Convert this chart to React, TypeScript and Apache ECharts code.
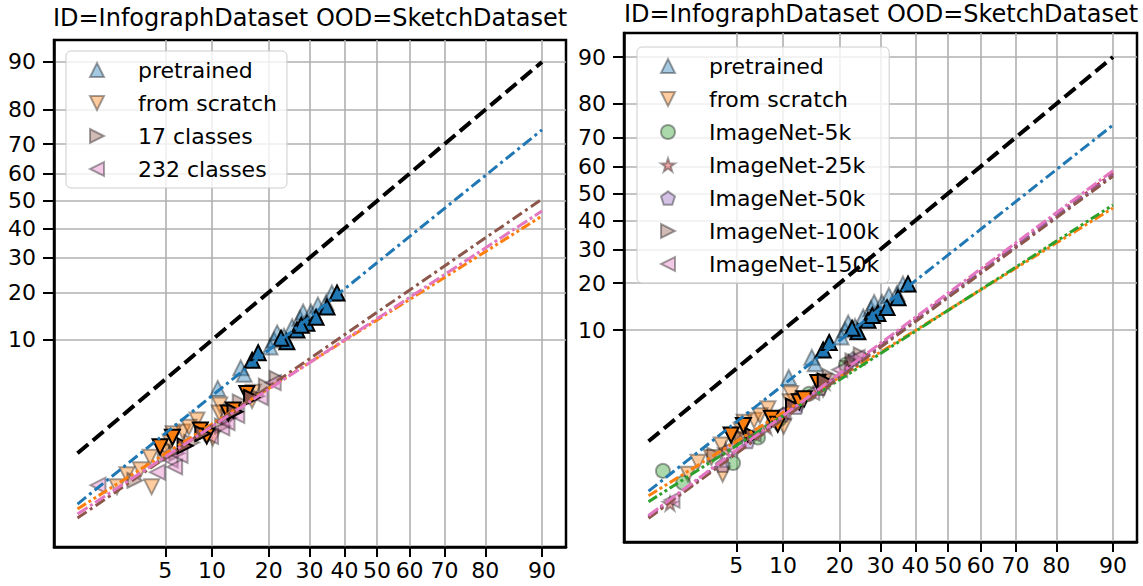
import React, { useEffect, useRef } from 'react';
import * as echarts from 'echarts';

// Inverse of the standard normal CDF (Acklam's rational approximation).
function probit(p: number): number {
  const a = [-3.969683028665376e1, 2.209460984245205e2, -2.759285104469687e2, 1.38357751867269e2, -3.066479806614716e1, 2.506628277459239];
  const b = [-5.447609879822406e1, 1.615858368580409e2, -1.556989798598866e2, 6.680131188771972e1, -1.328068155288572e1];
  const c = [-7.784894002430293e-3, -3.223964580411365e-1, -2.400758277161838, -2.549732539343734, 4.374664141464968, 2.938163982698783];
  const d = [7.784695709041462e-3, 3.224671290700398e-1, 2.445134137142996, 3.754408661907416];
  const pl = 0.02425;
  if (p < pl) {
    const q = Math.sqrt(-2 * Math.log(p));
    return (((((c[0] * q + c[1]) * q + c[2]) * q + c[3]) * q + c[4]) * q + c[5]) / ((((d[0] * q + d[1]) * q + d[2]) * q + d[3]) * q + 1);
  }
  if (p > 1 - pl) {
    const q = Math.sqrt(-2 * Math.log(1 - p));
    return -(((((c[0] * q + c[1]) * q + c[2]) * q + c[3]) * q + c[4]) * q + c[5]) / ((((d[0] * q + d[1]) * q + d[2]) * q + d[3]) * q + 1);
  }
  const q = p - 0.5;
  const r = q * q;
  return ((((((a[0] * r + a[1]) * r + a[2]) * r + a[3]) * r + a[4]) * r + a[5]) * q) / (((((b[0] * r + b[1]) * r + b[2]) * r + b[3]) * r + b[4]) * r + 1);
}

// percent -> probit-scaled coordinate
const pz = (pct: number) => probit(pct / 100);

const TITLE = 'ID=InfographDataset OOD=SketchDataset';
const xTicks = [5, 10, 20, 30, 40, 50, 60, 70, 80, 90];
const yTicks = [10, 20, 30, 40, 50, 60, 70, 80, 90];

// [ID accuracy %, OOD accuracy %]
const pretrainedLight = [
  [10.8, 4.2], [14.5, 6.2], [15.1, 5.5], [20.3, 8.9], [21.2, 10.0], [21.9, 11.2], [25.5, 12.3],
  [27.5, 14.0], [28.3, 15.3], [30.4, 15.3], [32.3, 16.9], [34.6, 17.4], [36.3, 19.8], [23.5, 10.6],
];
const pretrainedDark = [
  [16.6, 7.1], [17.8, 8.1], [24.2, 9.7], [26.7, 11.7], [29.3, 13.0], [31.8, 14.2], [34.9, 16.4],
  [37.8, 19.8], [22.8, 10.3], [27.8, 12.6],
];
const scratchLight = [
  [11.1, 3.0], [11.0, 2.53], [8.1, 2.17], [6.6, 1.66], [5.66, 1.59], [5.4, 1.31], [4.8, 1.03],
  [3.9, 0.91], [3.3, 0.66], [2.6, 0.58], [2.17, 0.42], [4.0, 0.42], [16.8, 3.9], [16.6, 3.3],
  [10.1, 1.44], [12.8, 2.53], [9.0, 1.62], [7.2, 1.85],
];
const scratchDark = [
  [12.4, 2.53], [8.5, 1.74], [4.6, 1.17], [15.6, 3.8], [9.3, 1.51], [5.6, 1.47], [13.2, 2.7],
];
const classes17 = [
  [5.0, 0.94], [6.0, 1.0], [9.1, 1.74], [11.5, 1.9], [14.4, 3.2], [17.5, 3.6], [21.9, 5.1],
  [19.5, 4.4], [7.5, 1.3], [12.5, 2.3], [3.0, 0.5],
];
const classes17Dark = [[8.8, 1.6], [13.5, 2.6], [16.5, 3.5], [6.8, 1.2]];
const classes232 = [
  [1.51, 0.44], [5.4, 0.85], [5.8, 0.71], [6.3, 0.95], [11.4, 1.82], [18.2, 3.5], [21.0, 4.7],
  [9.8, 1.5], [13.8, 2.4], [4.4, 0.62], [12.2, 2.05],
];
const inet5k = [[1.34, 0.46], [1.98, 0.33], [4.75, 0.57], [9.5, 1.7], [14.0, 3.0], [21.4, 5.4], [7.0, 1.1]];
const inet25k = [[1.54, 0.18], [4.2, 0.8], [8.0, 1.4], [12.0, 2.4], [17.0, 3.8], [22.0, 5.6]];
const inet50k = [[4.0, 0.54], [6.0, 1.0], [12.0, 2.25], [16.0, 3.4], [23.0, 6.0], [10.0, 1.9]];
const inet100k = [[3.5, 0.7], [5.5, 1.1], [9.0, 1.75], [13.0, 2.7], [18.0, 4.3], [23.0, 5.8], [25.0, 6.5]];
const inet100kDark = [[11.5, 2.3], [17.0, 3.9], [6.5, 1.15]];
const inet150k = [[1.6, 0.2], [4.5, 0.85], [6.5, 1.2], [10.0, 2.0], [14.5, 3.1], [20.0, 4.9], [24.0, 6.2]];

// Linear fits in probit space, evaluated at ID accuracy 1% and 90%
const fitX = [1, 90];
const diagY = [1, 90];
const fitPretrainedL = [0.26, 74.4];
const fitScratchL = [0.226, 44.5];
const fit232L = [0.195, 46.3];
const fit17L = [0.173, 50.7];
const fitPretrainedR = [0.26, 74.0];
const fitScratchR = [0.227, 44.6];
const fit5kR = [0.19, 45.7];
const fit25kR = [0.12, 57.5];
const fit50kR = [0.12, 57.0];
const fit100kR = [0.115, 56.5];
const fit150kR = [0.125, 58.5];

const C = {
  blue: '#1f77b4', orange: '#ff7f0e', green: '#2ca02c', red: '#d62728',
  purple: '#9467bd', brown: '#8c564b', pink: '#e377c2',
};
const FONT = 'DejaVu Sans';

const SYM = {
  up: 'path://M5,0 L10,10 L0,10 Z',
  down: 'path://M0,0 L10,0 L5,10 Z',
  right: 'path://M0,0 L10,5 L0,10 Z',
  left: 'path://M10,0 L10,10 L0,5 Z',
  star: 'path://M50,0 L61.8,36.2 L100,36.2 L69.1,58.6 L80.9,95.1 L50,72.7 L19.1,95.1 L30.9,58.6 L0,36.2 L38.2,36.2 Z',
  pentagon: 'path://M50,0 L100,36.3 L80.9,95.1 L19.1,95.1 L0,36.3 Z',
  circle: 'circle',
};

function hexA(hex: string, a: number) {
  const n = parseInt(hex.slice(1), 16);
  return `rgba(${(n >> 16) & 255},${(n >> 8) & 255},${n & 255},${a})`;
}

const toPts = (arr: number[][]) => arr.map(([x, y]) => [pz(x), pz(y)]);

function scatter(name: string, data: number[][], color: string, symbol: string, grid: number, dark = false, size = 15) {
  return {
    type: 'scatter', name, xAxisIndex: grid, yAxisIndex: grid, symbol, symbolSize: size,
    data: toPts(data), z: dark ? 3 : 2,
    itemStyle: dark
      ? { color, borderColor: '#000', borderWidth: 2, opacity: 1 }
      : { color: hexA(color, 0.5), borderColor: 'rgba(0,0,0,0.45)', borderWidth: 2 },
  };
}

function fitLine(id: string, ys: number[], color: string, grid: number, dash: number[], width = 3) {
  return {
    type: 'line', id, xAxisIndex: grid, yAxisIndex: grid, symbol: 'none', silent: true, z: 5,
    data: fitX.map((x, i) => [pz(x), pz(ys[i])]),
    lineStyle: { color, width, type: dash },
  };
}

function tickFmt(ticks: number[]) {
  return (v: number) => {
    const t = ticks.find((k) => Math.abs(pz(k) - v) < 1e-6);
    return t === undefined ? '' : String(t);
  };
}

function xAxis(grid: number, min: number, max: number) {
  const vals = xTicks.map(pz);
  return {
    type: 'value', gridIndex: grid, min, max,
    axisLine: { show: true, onZero: false, lineStyle: { color: '#000', width: 2.5 } },
    axisTick: { show: true, customValues: vals, length: 10, lineStyle: { color: '#000', width: 2 } },
    axisLabel: { customValues: vals, formatter: tickFmt(xTicks), fontSize: 22, color: '#000', fontFamily: FONT, margin: 12 },
    splitLine: { show: true, lineStyle: { color: '#b0b0b0', width: 1.6 } },
  };
}
function yAxis(grid: number, min: number, max: number) {
  const vals = yTicks.map(pz);
  return {
    type: 'value', gridIndex: grid, min, max,
    axisLine: { show: true, onZero: false, lineStyle: { color: '#000', width: 2.5 } },
    axisTick: { show: true, customValues: vals, length: 11, lineStyle: { color: '#000', width: 2 } },
    axisLabel: { customValues: vals, formatter: tickFmt(yTicks), fontSize: 22, color: '#000', fontFamily: FONT, margin: 18 },
    splitLine: { show: true, lineStyle: { color: '#b0b0b0', width: 1.6 } },
  };
}

function legend(left: number, top: number, names: string[]) {
  return {
    orient: 'vertical', left, top, data: names,
    backgroundColor: 'rgba(255,255,255,0.8)', borderColor: '#cccccc', borderWidth: 1, borderRadius: 5,
    padding: [8, 10, 8, 23], itemWidth: 14, itemHeight: 14, itemGap: 11,
    textStyle: { fontSize: 22, fontFamily: FONT, color: '#000', lineHeight: 22, padding: [0, 0, 0, 29] },
    selectedMode: false,
  };
}

export default function App() {
  const ref = useRef<HTMLDivElement>(null);
  useEffect(() => {
    if (!ref.current) return;
    const chart = echarts.init(ref.current, undefined, { renderer: 'svg' });
    const dashed = [14, 6];
    const dashDot = [11, 4, 3, 4];
    const dashDotDot = [10, 3, 3, 3, 3, 3];
    chart.setOption({
      animation: false,
      backgroundColor: '#fff',
      title: [
        { text: TITLE, left: 310, top: 6, textAlign: 'center', padding: 0, textStyle: { fontSize: 24, fontWeight: 'normal', fontFamily: FONT, color: '#000' } },
        { text: TITLE, left: 881, top: 2, textAlign: 'center', padding: 0, textStyle: { fontSize: 24, fontWeight: 'normal', fontFamily: FONT, color: '#000' } },
      ],
      legend: [
        legend(66, 51, ['pretrained', 'from scratch', '17 classes', '232 classes']),
        legend(637, 47, ['pretrained', 'from scratch', 'ImageNet-5k', 'ImageNet-25k', 'ImageNet-50k', 'ImageNet-100k', 'ImageNet-150k']),
      ],
      grid: [
        { left: 54, top: 40, width: 512, height: 507, show: true, borderColor: '#000', borderWidth: 2.5, backgroundColor: 'transparent' },
        { left: 624, top: 33, width: 513, height: 509, show: true, borderColor: '#000', borderWidth: 2.5, backgroundColor: 'transparent' },
      ],
      xAxis: [xAxis(0, -2.509, 1.468), xAxis(1, -2.517, 1.468)],
      yAxis: [yAxis(0, -3.19, 1.484), yAxis(1, -3.272, 1.507)],
      series: [
        // left panel
        scatter('pretrained', pretrainedLight, C.blue, SYM.up, 0),
        scatter('from scratch', scratchLight, C.orange, SYM.down, 0),
        scatter('17 classes', classes17, C.brown, SYM.right, 0),
        scatter('232 classes', classes232, C.pink, SYM.left, 0),
        scatter('pretrained', pretrainedDark, C.blue, SYM.up, 0, true),
        scatter('from scratch', scratchDark, C.orange, SYM.down, 0, true),
        scatter('17 classes', classes17Dark, C.brown, SYM.right, 0, true),
        fitLine('diagL', diagY, '#000', 0, dashed, 4),
        fitLine('fitPretrainedL', fitPretrainedL, C.blue, 0, dashDot),
        fitLine('fitScratchL', fitScratchL, C.orange, 0, dashDotDot),
        fitLine('fit17L', fit17L, C.brown, 0, dashDot),
        fitLine('fit232L', fit232L, C.pink, 0, [12, 3, 3, 3]),
        // right panel
        scatter('pretrained', pretrainedLight, C.blue, SYM.up, 1),
        scatter('from scratch', scratchLight, C.orange, SYM.down, 1),
        scatter('ImageNet-5k', inet5k, C.green, SYM.circle, 1, false, 14),
        scatter('ImageNet-25k', inet25k, C.red, SYM.star, 1, false, 14),
        scatter('ImageNet-50k', inet50k, C.purple, SYM.pentagon, 1, false, 14),
        scatter('ImageNet-100k', inet100k, C.brown, SYM.right, 1),
        scatter('ImageNet-150k', inet150k, C.pink, SYM.left, 1),
        scatter('pretrained', pretrainedDark, C.blue, SYM.up, 1, true),
        scatter('from scratch', scratchDark, C.orange, SYM.down, 1, true),
        scatter('ImageNet-100k', inet100kDark, C.brown, SYM.right, 1, true),
        fitLine('diagR', diagY, '#000', 1, dashed, 4),
        fitLine('fitPretrainedR', fitPretrainedR, C.blue, 1, dashDot),
        fitLine('fitScratchR', fitScratchR, C.orange, 1, dashDotDot),
        fitLine('fit5kR', fit5kR, C.green, 1, dashDotDot),
        fitLine('fit25kR', fit25kR, C.red, 1, dashDot),
        fitLine('fit50kR', fit50kR, C.purple, 1, dashDot),
        fitLine('fit100kR', fit100kR, C.brown, 1, dashDot),
        fitLine('fit150kR', fit150kR, C.pink, 1, [12, 3, 3, 3]),
      ],
    });
    return () => chart.dispose();
  }, []);
  return <div ref={ref} style={{ position: 'fixed', left: 0, top: 0, width: 1143, height: 586 }} />;
}
